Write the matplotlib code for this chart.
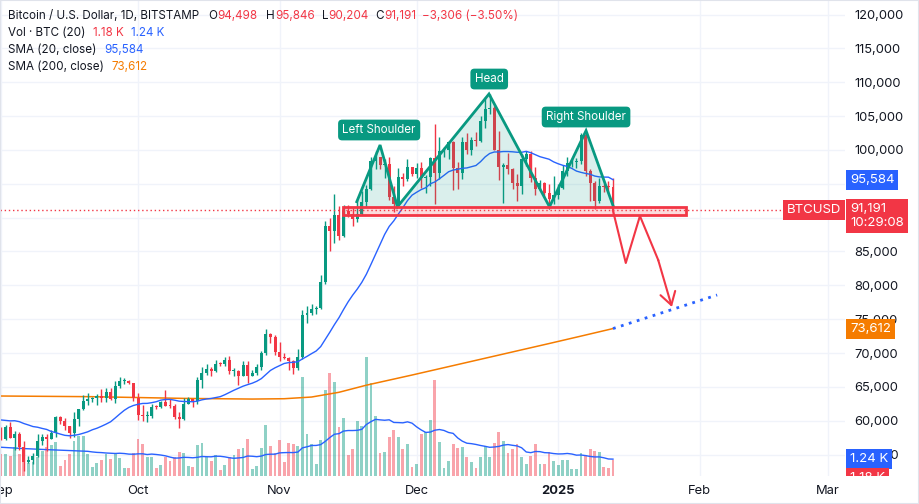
import matplotlib
matplotlib.use("Agg")
import matplotlib.pyplot as plt
import matplotlib.dates as mdates
from matplotlib.ticker import FuncFormatter
from matplotlib.transforms import offset_copy
import numpy as np
import pandas as pd

plt.rcParams['font.family'] = ['Inter', 'DejaVu Sans']

GREEN = '#089981'
RED = '#f23645'
BLUE = '#2962ff'
ORANGE = '#f57c00'
TXT = '#131722'
GRID = '#f0f3fa'

# daily BTCUSD (Bitstamp), 2024-09-01 .. 2025-01-13
dates = pd.date_range('2024-09-01', '2025-01-13', freq='D')

opens = [
    58970, 57300, 59130, 57480, 57970, 56160, 53960, 54150, 54840, 57020,
    57650, 57340, 58130, 60570, 60000, 59180, 58200, 60300, 61760, 62950,
    63200, 63350, 63580, 63330, 64260, 63150, 65180, 65800, 65880, 65600,
    63330, 60800, 60650, 60750, 62090, 62060, 62820, 62220, 62130, 60580,
    60270, 62450, 63190, 62850, 66050, 67040, 67610, 67400, 68400, 68360,
    69030, 67370, 67380, 66680, 68160, 66630, 67030, 67940, 69950, 72740, 72340,
    70220, 69480, 69300, 68750, 67820, 69370, 75630, 75900, 76520, 76700,
    80430, 88700, 87950, 90390, 87250, 91050, 90600, 89840, 90540, 92310,
    94290, 98330, 98930, 97700, 97900, 93060, 91980, 95950, 95660, 97460,
    96420, 97270, 95850, 96000, 98770, 96590, 99880, 99990, 101130, 97360,
    96600, 101170, 100040, 101420, 101370, 104300, 106060, 106140, 100040, 97490,
    97750, 97220, 95100, 94690, 98650, 99400, 95790, 94250, 95150, 93700, 92760,
    93380, 94400, 96890, 98100, 98230, 98350, 102250, 96950, 95040, 92480,
    94700, 94540, 94498]

highs = [
    59060, 59410, 59810, 58510, 58300, 56980, 54840, 55300, 58110, 58040,
    57990, 58590, 60650, 60640, 60380, 59210, 61320, 61780, 63870, 64100,
    63550, 64000, 64720, 64800, 64800, 65800, 66480, 66240, 66070, 65620,
    64130, 62370, 61470, 62470, 62370, 62980, 64480, 63200, 62520, 61280,
    63400, 63480, 63280, 66480, 67890, 68420, 67940, 68980, 68680, 69400,
    69500, 67830, 67450, 68820, 68760, 67420, 68330, 70250, 73620, 72980, 72700,
    71560, 69930, 69380, 69000, 70550, 76400, 76950, 77230, 76990, 81460,
    89530, 89900, 93430, 91780, 91850, 91800, 91440, 92590, 94000, 94850,
    98950, 99800, 98990, 98640, 98880, 94700, 97360, 96650, 98700, 97480,
    98000, 98150, 96300, 99000, 103900, 101900, 100500, 101300, 101280, 98200,
    101900, 102500, 101900, 102650, 105000, 107750, 108300, 106500, 102800, 98100,
    99500, 97400, 96400, 99400, 99900, 99900, 97500, 95500, 95200, 94900, 96100,
    94950, 97800, 98900, 98700, 98800, 102500, 102700, 97250, 95350, 95850,
    95000, 95400, 95846]

lows = [
    57210, 57120, 57420, 55620, 55690, 52550, 53740, 53650, 54600, 56400,
    55550, 57330, 57650, 59460, 58700, 57500, 57620, 59180, 61620, 62380,
    62780, 62380, 62700, 62760, 62990, 62690, 64830, 65440, 65450, 62850,
    60160, 59990, 59830, 60460, 61680, 61830, 62130, 61840, 60280, 58900,
    60050, 62420, 62060, 62450, 64820, 66750, 66670, 67150, 68110, 68100,
    66830, 66560, 65260, 66550, 65550, 66540, 66760, 67550, 69730, 71450, 69680,
    68820, 69050, 67450, 66830, 67470, 69050, 74500, 75600, 75800, 76550,
    80250, 85100, 86220, 86700, 87100, 90080, 88770, 89400, 90420, 91540,
    94120, 97230, 97230, 95800, 92600, 90850, 91800, 94700, 95380, 96180,
    95800, 94380, 93580, 94600, 92000, 95750, 98950, 98700, 94100, 94250,
    95700, 99350, 99200, 100600, 101200, 103300, 105300, 100000, 95600, 92200,
    96400, 94250, 92450, 93450, 97600, 95200, 93300, 94100, 93000, 91300, 92000,
    92750, 94200, 96100, 97500, 97300, 97900, 96100, 92500, 91200, 92200,
    93800, 93700, 90204]

closes = [
    57300, 59130, 57480, 57970, 56160, 53960, 54150, 54840, 57020, 57650,
    57340, 58130, 60570, 60000, 59180, 58200, 60300, 61760, 62950, 63200,
    63350, 63580, 63330, 64260, 63150, 65180, 65800, 65880, 65600, 63330,
    60800, 60650, 60750, 62090, 62060, 62820, 62220, 62130, 60580, 60270,
    62450, 63190, 62850, 66050, 67040, 67610, 67400, 68400, 68360, 69030,
    67370, 67380, 66680, 68160, 66630, 67030, 67940, 69950, 72740, 72340, 70220,
    69480, 69300, 68750, 67820, 69370, 75630, 75900, 76520, 76700, 80430,
    88700, 87950, 90390, 87250, 91050, 90600, 89840, 90540, 92310, 94290,
    98330, 98930, 97700, 97900, 93060, 91980, 95950, 95660, 97460, 96420,
    97270, 95850, 96000, 98770, 96590, 99880, 99990, 101130, 97360, 96600,
    101170, 100040, 101420, 101370, 104300, 106060, 106140, 100040, 97490, 97750,
    97220, 95100, 94690, 98650, 99400, 95790, 94250, 95150, 93700, 92760, 93380,
    94400, 96890, 98100, 98230, 98350, 102250, 96950, 95040, 92480, 94700,
    94540, 94510, 91191]

volume = [
    1606, 1606, 1500, 2182, 1606, 2106, 924, 1045, 1424, 1856,
    2182, 2311, 2561, 720, 1174, 1629, 2614, 2992, 2992, 1606,
    667, 924, 1174, 1606, 1227, 1727, 1303, 591, 545, 1682,
    2765, 2386, 1424, 1424, 545, 795, 1424, 1098, 1424, 1803,
    1682, 720, 667, 2311, 2485, 1424, 1098, 1553, 417, 795,
    1424, 1553, 1985, 2106, 2742, 470, 720, 2061, 3826, 2235, 1727,
    2689, 1023, 2485, 2364, 2235, 7485, 3144, 2386, 871, 2689,
    6477, 7788, 7083, 3674, 4356, 1553, 2030, 4152, 3750, 9000,
    7030, 4508, 1727, 1780, 2917, 3470, 2917, 2030, 2386, 667,
    871, 3144, 3318, 4205, 7235, 2538, 591, 1098, 2386, 2106,
    2159, 1402, 1023, 576, 1364, 2197, 1439, 2470, 3295, 2614,
    1712, 2015, 2386, 1402, 871, 1477, 2386, 871, 871, 1780, 1098,
    795, 1174, 1174, 492, 492, 1705, 1530, 2008, 1879, 1780,
    667, 576, 1180]

# closes 2024-08-12 .. 2024-08-31, only used to start the 20 day average
prior_closes = [59350, 60600, 58740, 57560, 58880, 59480, 58450, 59490, 59010, 61160,
                60380, 64090, 64180, 64250, 62830, 59420, 59030, 59370, 59120, 58970]

# volume MA over the first days, days since 2024-09-01
volma_early_days = [0, 5, 10, 15]
volma_early = [2140, 2040, 1960, 1890]

# SMA 200, days since 2024-09-01
sma200_days = [0, 20, 40, 55, 62, 68, 74, 80, 90, 100, 110, 120, 127, 134]
sma200_vals = [63650, 63550, 63300, 63200, 63250, 63500, 64200, 65250, 66750,
               68300, 69850, 71400, 72500, 73612]

# drawings (days since 2024-09-01, price)
hs_days = [77.9, 83.0, 86.8, 106.85, 120.1, 128.1, 134.1]
hs_prices = [92350, 100725, 91600, 108260, 91600, 102840, 91600]
hs_labels = ['Left Shoulder', 'Head', 'Right Shoulder']
hs_label_days = [82.8, 106.9, 128.1]
hs_label_prices = [102940, 110470, 104860]

zone_days = [74.9, 150.0]
zone_prices = [90390, 91525]

path_days = [134.0, 136.8, 139.9, 143.9, 146.9]
path_prices = [91020, 83300, 90240, 83740, 76800]

proj_days = [134.0, 156.8]
proj_prices = [73612, 78570]

month_ticks = ['2024-09-01', '2024-10-01', '2024-11-01', '2024-12-01',
               '2025-01-01', '2025-02-01', '2025-03-01']
month_labels = ['Sep', 'Oct', 'Nov', 'Dec', '2025', 'Feb', 'Mar']

last_price = 91191
sma20_last = 95584
sma200_last = 73612
vol_last = 1.18
volma_last = 1.24

# ---------------------------------------------------------------
o = np.array(opens, float)
h = np.array(highs, float)
l = np.array(lows, float)
c = np.array(closes, float)
v = np.array(volume, float)
x = mdates.date2num(dates)
t0 = x[0]

sma20 = pd.Series(prior_closes + closes).rolling(20).mean().values[len(prior_closes):]
vma = pd.Series(volume).rolling(20).mean().values
vma_x = np.concatenate([t0 + np.array(volma_early_days), x[19:]])
vma_y = np.concatenate([volma_early, vma[19:]])

up = c >= o
col = np.where(up, GREEN, RED)

W, H = 919, 504
fig = plt.figure(figsize=(W / 100, H / 100), dpi=100)
pane_h = 475.5
ax = fig.add_axes([0, 1 - pane_h / H, 845 / W, pane_h / H])
ax.set_facecolor('white')

ax.set_xlim(t0 - 0.22, t0 + 184.8)
ax.set_ylim(51910, 122142)
VOLTOP = 36023  # volume scale of the pane (volume units over full height)

ax.set_yticks(np.arange(55000, 120001, 5000))
ax.set_xticks(mdates.date2num(pd.to_datetime(month_ticks)))
ax.set_xticklabels(month_labels)
ax.grid(True, color=GRID, lw=1, zorder=0)
ax.set_axisbelow(True)
for s in ax.spines.values():
    s.set_visible(False)
ax.yaxis.tick_right()
ax.yaxis.set_major_formatter(FuncFormatter(lambda val, p: f'{val:,.0f}'))
ax.tick_params(axis='y', length=0, pad=7, labelsize=9.3, labelcolor=TXT)
ax.tick_params(axis='x', length=0, pad=7, labelsize=9.3, labelcolor=TXT)
for lab in ax.get_xticklabels():
    if lab.get_text() == '2025':
        lab.set_fontweight('bold')

# volume pane (bottom of the chart)
xt = ax.get_xaxis_transform()
ax.bar(x, v / VOLTOP, bottom=0, width=0.62, color=col, alpha=0.45,
       transform=xt, zorder=2, linewidth=0)
ax.plot(vma_x, vma_y / VOLTOP, color=BLUE, lw=1, transform=xt, zorder=3)

# moving averages
ax.plot(t0 + np.array(sma200_days), sma200_vals, color=ORANGE, lw=1.1, zorder=3)
ax.plot(x, sma20, color=BLUE, lw=1, zorder=5)

# candles
ax.vlines(x, l, h, colors=col, lw=1, zorder=4)
ax.bar(x, np.maximum(np.abs(c - o), 150), bottom=np.minimum(o, c), width=0.65,
       color=col, zorder=4, linewidth=0)

# head & shoulders drawing
hx = t0 + np.array(hs_days)
ax.fill(np.r_[hx, hx[-1], hx[0]], np.r_[hs_prices, hs_prices[-1], hs_prices[-1]],
        color=GREEN, alpha=0.15, lw=0, zorder=6)
ax.plot(hx, hs_prices, color=GREEN, lw=2, zorder=7, solid_joinstyle='miter')
for lab, d, p in zip(hs_labels, hs_label_days, hs_label_prices):
    ax.text(t0 + d, p, lab, ha='center', va='center', color='white', fontsize=8.3,
            zorder=9, bbox=dict(boxstyle='round,pad=0.38,rounding_size=0.35',
                                fc=GREEN, ec='none'))

# neckline zone
zx = t0 + np.array(zone_days)
ax.add_patch(plt.Rectangle((zx[0], zone_prices[0]), zx[1] - zx[0],
                           zone_prices[1] - zone_prices[0], fc=RED, alpha=0.18,
                           ec='none', zorder=6))
ax.add_patch(plt.Rectangle((zx[0], zone_prices[0]), zx[1] - zx[0],
                           zone_prices[1] - zone_prices[0], fc='none', ec=RED,
                           lw=2, zorder=7))

# last price line
ax.axhline(last_price, color=RED, lw=1, ls=(0, (1, 2)), zorder=6)

# projected path
px = t0 + np.array(path_days)
ax.plot(px[:-1], path_prices[:-1], color=RED, lw=1.5, zorder=8)
ax.annotate('', xy=(px[-1], path_prices[-1]), xytext=(px[-2], path_prices[-2]),
            arrowprops=dict(arrowstyle='->,head_length=0.9,head_width=0.55',
                            color=RED, lw=1.5, shrinkA=0, shrinkB=0), zorder=8)

# SMA 200 projection
ax.plot(t0 + np.array(proj_days), proj_prices, color=BLUE, lw=2,
        ls=(0, (1, 2)), zorder=6)

# BTCUSD tag inside the pane
ax.text(1.0, last_price, 'BTCUSD', ha='right', va='center', color='white', fontsize=9.5,
        transform=offset_copy(ax.get_yaxis_transform(), fig, x=-4, y=0, units='dots'),
        zorder=12, bbox=dict(boxstyle='square,pad=0.3', fc=RED, ec='none'))

# price scale tags
sax = fig.add_axes([845 / W, 1 - pane_h / H, (W - 845) / W, pane_h / H])
sax.set_xlim(0, 1)
sax.set_ylim(ax.get_ylim())
sax.axis('off')
sax.patch.set_alpha(0)
yt = sax.get_yaxis_transform()


def tag(y, s, fc, trans=yt, dy=0):
    sax.text(0.068, y, s, ha='left', va='center', color='white', fontsize=9.5,
             transform=offset_copy(trans, fig, x=0, y=dy, units='dots'),
             clip_on=True, zorder=12,
             bbox=dict(boxstyle='square,pad=0.3', fc=fc, ec='none'))


tag(sma20_last, f'{sma20_last:,}', BLUE)
tag(sma200_last, f'{sma200_last:,}', ORANGE)
tag(last_price, f'{last_price:,}\n10:29:08', RED, dy=-6.5)
tag(volma_last * 1000 / VOLTOP, f'{volma_last:.2f} K', BLUE, trans=sax.transAxes)
tag(vol_last * 1000 / VOLTOP, f'{vol_last:.2f} K', RED, trans=sax.transAxes, dy=-18)

# legend
renderer = fig.canvas.get_renderer()


def legend_line(ypix, parts):
    xp = 8
    for s, color, gap in parts:
        t = fig.text(xp / W, 1 - ypix / H, s, color=color, fontsize=8.4,
                     ha='left', va='center')
        xp += t.get_window_extent(renderer=renderer).width + gap


legend_line(16, [('Bitcoin / U.S. Dollar, 1D, BITSTAMP', TXT, 9), ('O', TXT, 0),
                 ('94,498', RED, 9), ('H', TXT, 0), ('95,846', RED, 7),
                 ('L', TXT, 0), ('90,204', RED, 7), ('C', TXT, 0),
                 ('91,191', RED, 6), ('\u22123,306 (\u22123.50%)', RED, 0)])
legend_line(33, [('Vol \u00b7 BTC (20)', TXT, 8), (f'{vol_last:.2f} K', RED, 7),
                 (f'{volma_last:.2f} K', BLUE, 0)])
legend_line(50, [('SMA (20, close)', TXT, 8), (f'{sma20_last:,}', BLUE, 0)])
legend_line(67, [('SMA (200, close)', TXT, 8), (f'{sma200_last:,}', ORANGE, 0)])

fig.patches.append(plt.Rectangle((0, 0), 1, 1, transform=fig.transFigure,
                                 fill=False, ec='#e0e3eb', lw=1.5))

fig.savefig('out.png', dpi=100)
